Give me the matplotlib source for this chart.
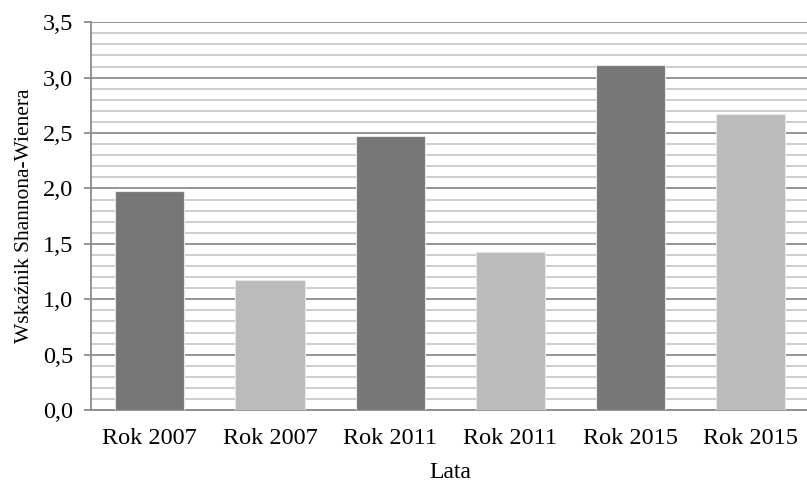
import matplotlib.pyplot as plt
from matplotlib.ticker import MultipleLocator, FuncFormatter

labels = ["Rok 2007", "Rok 2007", "Rok 2011", "Rok 2011", "Rok 2015", "Rok 2015"]
values = [1.98, 1.17, 2.47, 1.43, 3.11, 2.67]
colors = ["#777777", "#bbbbbb", "#777777", "#bbbbbb", "#777777", "#bbbbbb"]

plt.rcParams['font.family'] = ['Liberation Serif', 'DejaVu Serif']

fig = plt.figure(figsize=(8.07, 4.82), dpi=100)
ax = fig.add_axes([0.1128, 0.149, 0.89, 0.805])

x = range(len(values))
ax.bar(x, values, width=0.575, color=colors, edgecolor="#e6e6e6", linewidth=0.8, zorder=3)

ax.set_ylim(0, 3.5)
ax.set_xlim(-0.49, 5.49)
ax.yaxis.set_major_locator(MultipleLocator(0.5))
ax.yaxis.set_minor_locator(MultipleLocator(0.1))
ax.yaxis.set_major_formatter(FuncFormatter(lambda v, p: f"{v:.1f}".replace(".", ",")))
ax.grid(which="major", axis="y", color="#8c8c8c", linewidth=1.3, zorder=0)
ax.grid(which="minor", axis="y", color="#c0c0c0", linewidth=1.1, zorder=0)

ax.set_xticks(list(x))
ax.set_xticklabels(labels)
ax.tick_params(axis="x", length=0, labelsize=17.5, pad=13)
ax.tick_params(axis="y", which="major", length=5, width=1.3, color="#8c8c8c", labelsize=17.5, pad=8)
ax.tick_params(axis="y", which="minor", length=0)

for s in ["top", "right"]:
    ax.spines[s].set_visible(False)
for s in ["left", "bottom"]:
    ax.spines[s].set_color("#8c8c8c")
    ax.spines[s].set_linewidth(1.3)

ax.set_xlabel("Lata", fontsize=17, labelpad=9)
ax.set_ylabel("Wskaźnik Shannona-Wienera", fontsize=15.5, labelpad=6)

fig.savefig("out.png", dpi=100)
